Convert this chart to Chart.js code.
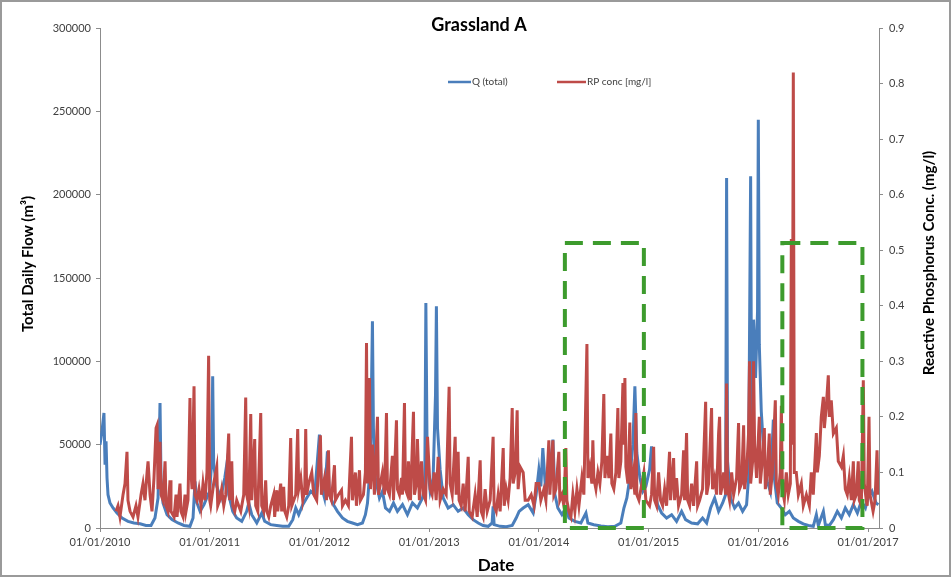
<!DOCTYPE html>
<html>
<head>
<meta charset="utf-8">
<script src="https://cdn.jsdelivr.net/npm/chart.js@4.4.1/dist/chart.umd.min.js"></script>
<style>
  html, body { margin: 0; padding: 0; background: #fff; }
  #wrap { width: 951px; height: 577px; }
</style>
</head>
<body>
<div id="wrap"><canvas id="grafico" width="951" height="577"></canvas></div>
<script>
// Datas em anos decimais (2010.5 = meio de 2010)
const anosTicks = [2010, 2011, 2012, 2013, 2014, 2015, 2016, 2017];

// Q (total) - vazão diária total (m3) [ano, vazão]
const vazaoQ = [
  [2010.000, 50000], [2010.018, 58000], [2010.036, 69000], [2010.046, 38000], [2010.055, 52000],
  [2010.064, 30000], [2010.073, 20000], [2010.091, 15000], [2010.119, 12000], [2010.155, 9000],
  [2010.201, 6000], [2010.255, 4000], [2010.310, 3000], [2010.365, 2500], [2010.419, 1500],
  [2010.465, 1500], [2010.501, 6000], [2010.529, 18000], [2010.547, 75000], [2010.556, 30000],
  [2010.574, 15000], [2010.611, 8000], [2010.656, 5000], [2010.711, 3000], [2010.766, 1500],
  [2010.820, 1000], [2010.848, 6000], [2010.866, 28000], [2010.884, 15000], [2010.912, 10000],
  [2010.948, 14000], [2010.985, 20000],
  [2011.000, 22000], [2011.018, 40000], [2011.027, 91000], [2011.036, 38000], [2011.064, 25000],
  [2011.100, 18000], [2011.137, 30000], [2011.155, 38000], [2011.173, 20000], [2011.210, 10000],
  [2011.246, 6000], [2011.292, 4000], [2011.337, 10000], [2011.356, 15000], [2011.383, 8000],
  [2011.429, 3000], [2011.474, 9000], [2011.501, 4000], [2011.556, 2000], [2011.611, 1500],
  [2011.665, 1000], [2011.720, 1000], [2011.757, 5000], [2011.784, 12000], [2011.811, 8000],
  [2011.848, 14000], [2011.884, 18000], [2011.921, 22000], [2011.957, 20000],
  [2012.000, 56000], [2012.018, 25000], [2012.046, 18000], [2012.073, 46000], [2012.091, 20000],
  [2012.128, 14000], [2012.164, 10000], [2012.210, 6000], [2012.255, 4000], [2012.301, 3000],
  [2012.347, 2000], [2012.392, 3000], [2012.419, 8000], [2012.438, 15000], [2012.465, 40000],
  [2012.483, 124000], [2012.492, 60000], [2012.510, 30000], [2012.547, 18000], [2012.574, 22000],
  [2012.602, 12000], [2012.638, 10000], [2012.675, 15000], [2012.711, 10000], [2012.757, 14000],
  [2012.802, 8000], [2012.848, 15000], [2012.893, 12000], [2012.939, 18000], [2012.960, 25000],
  [2012.970, 135000], [2012.982, 40000],
  [2013.009, 22000], [2013.036, 30000], [2013.058, 80000], [2013.066, 133000], [2013.076, 60000],
  [2013.100, 35000], [2013.128, 18000], [2013.173, 12000], [2013.219, 14000], [2013.264, 10000],
  [2013.310, 12000], [2013.356, 8000], [2013.401, 5000], [2013.447, 3000], [2013.492, 1500],
  [2013.538, 1000], [2013.574, 3000], [2013.583, 13000], [2013.592, 2000], [2013.647, 1000],
  [2013.702, 800], [2013.757, 1500], [2013.793, 6000], [2013.820, 10000], [2013.857, 12000],
  [2013.903, 14000], [2013.948, 9000], [2013.975, 20000],
  [2014.000, 35000], [2014.018, 25000], [2014.036, 48000], [2014.064, 20000], [2014.091, 30000],
  [2014.109, 40000], [2014.128, 53000], [2014.146, 20000], [2014.173, 12000], [2014.210, 8000],
  [2014.246, 12000], [2014.274, 6000], [2014.328, 4000], [2014.383, 3000], [2014.429, 9000],
  [2014.447, 3000], [2014.501, 2000], [2014.565, 1200], [2014.629, 800], [2014.693, 1000],
  [2014.747, 3000], [2014.775, 12000], [2014.802, 18000], [2014.829, 30000], [2014.857, 50000],
  [2014.875, 85000], [2014.893, 45000], [2014.921, 30000], [2014.948, 22000], [2014.975, 25000],
  [2015.009, 35000], [2015.027, 49000], [2015.046, 25000], [2015.082, 14000], [2015.119, 9000],
  [2015.164, 6000], [2015.210, 8000], [2015.255, 4000], [2015.301, 10000], [2015.337, 5000],
  [2015.392, 3000], [2015.447, 2500], [2015.492, 6000], [2015.529, 3000], [2015.565, 12000],
  [2015.602, 18000], [2015.638, 10000], [2015.675, 15000], [2015.702, 20000], [2015.711, 210000],
  [2015.720, 40000], [2015.747, 18000], [2015.784, 12000], [2015.820, 15000], [2015.857, 10000],
  [2015.893, 14000], [2015.911, 30000], [2015.930, 211000], [2015.939, 60000], [2015.957, 125000],
  [2015.975, 90000], [2015.993, 130000],
  [2016.000, 245000], [2016.009, 110000], [2016.027, 70000], [2016.055, 40000], [2016.082, 28000],
  [2016.109, 22000], [2016.137, 65000], [2016.146, 30000], [2016.173, 15000], [2016.210, 12000],
  [2016.246, 8000], [2016.283, 10000], [2016.319, 6000], [2016.365, 4000], [2016.410, 2500],
  [2016.456, 1500], [2016.501, 1000], [2016.529, 8000], [2016.547, 1500], [2016.593, 10000],
  [2016.611, 2000], [2016.647, 1500], [2016.684, 5000], [2016.720, 10000], [2016.757, 6000],
  [2016.793, 12000], [2016.829, 8000], [2016.866, 14000], [2016.903, 9000], [2016.939, 16000],
  [2016.976, 12000], [2017.000, 18000], [2017.036, 22000], [2017.073, 15000], [2017.095, 14000]
];

// RP conc - fósforo reativo (mg/l) [ano, concentração]
const concRP = [
  [2010.146, 0.03], [2010.164, 0.04], [2010.182, 0.02], [2010.210, 0.06], [2010.228, 0.08],
  [2010.246, 0.137], [2010.255, 0.05], [2010.274, 0.03], [2010.301, 0.02], [2010.328, 0.04],
  [2010.346, 0.02], [2010.374, 0.06], [2010.392, 0.08], [2010.410, 0.05], [2010.429, 0.10],
  [2010.438, 0.12], [2010.456, 0.06], [2010.474, 0.03], [2010.492, 0.09], [2010.511, 0.18],
  [2010.520, 0.185], [2010.529, 0.07], [2010.547, 0.155], [2010.556, 0.06], [2010.574, 0.05],
  [2010.593, 0.12], [2010.602, 0.04], [2010.620, 0.03], [2010.638, 0.086], [2010.647, 0.03],
  [2010.675, 0.02], [2010.693, 0.06], [2010.702, 0.02], [2010.729, 0.08], [2010.738, 0.03],
  [2010.757, 0.02], [2010.775, 0.06], [2010.784, 0.03], [2010.802, 0.05], [2010.820, 0.234],
  [2010.829, 0.10], [2010.839, 0.07], [2010.857, 0.255], [2010.866, 0.06], [2010.884, 0.05],
  [2010.902, 0.07], [2010.921, 0.04], [2010.939, 0.08], [2010.957, 0.05], [2010.975, 0.10],
  [2010.990, 0.31],
  [2011.000, 0.05], [2011.009, 0.04], [2011.036, 0.08], [2011.064, 0.11], [2011.073, 0.04],
  [2011.091, 0.05], [2011.109, 0.07], [2011.128, 0.04], [2011.146, 0.06], [2011.173, 0.17],
  [2011.182, 0.05], [2011.201, 0.12], [2011.210, 0.04], [2011.228, 0.03], [2011.246, 0.05],
  [2011.264, 0.04], [2011.283, 0.03], [2011.310, 0.06], [2011.328, 0.235], [2011.337, 0.06],
  [2011.356, 0.04], [2011.374, 0.205], [2011.383, 0.05], [2011.410, 0.16], [2011.419, 0.04],
  [2011.438, 0.03], [2011.465, 0.207], [2011.474, 0.04], [2011.492, 0.03], [2011.510, 0.086],
  [2011.520, 0.03], [2011.538, 0.02], [2011.556, 0.04], [2011.583, 0.06], [2011.592, 0.02],
  [2011.611, 0.068], [2011.620, 0.03], [2011.647, 0.08], [2011.656, 0.03], [2011.674, 0.074],
  [2011.684, 0.03], [2011.702, 0.02], [2011.720, 0.04], [2011.738, 0.162], [2011.748, 0.04],
  [2011.766, 0.05], [2011.784, 0.06], [2011.802, 0.178], [2011.811, 0.07], [2011.830, 0.09],
  [2011.848, 0.05], [2011.866, 0.07], [2011.875, 0.178], [2011.884, 0.06], [2011.902, 0.08],
  [2011.930, 0.10], [2011.948, 0.06], [2011.975, 0.05],
  [2012.009, 0.167], [2012.018, 0.06], [2012.046, 0.09], [2012.064, 0.05], [2012.082, 0.14],
  [2012.091, 0.06], [2012.109, 0.05], [2012.137, 0.113], [2012.146, 0.05], [2012.173, 0.06],
  [2012.201, 0.068], [2012.210, 0.04], [2012.237, 0.05], [2012.264, 0.04], [2012.292, 0.164],
  [2012.301, 0.05], [2012.328, 0.10], [2012.337, 0.04], [2012.365, 0.104], [2012.374, 0.05],
  [2012.401, 0.06], [2012.419, 0.10], [2012.429, 0.333], [2012.438, 0.08], [2012.456, 0.27],
  [2012.465, 0.07], [2012.483, 0.15], [2012.501, 0.06], [2012.529, 0.20], [2012.538, 0.06],
  [2012.556, 0.08], [2012.574, 0.10], [2012.593, 0.06], [2012.611, 0.207], [2012.620, 0.07],
  [2012.638, 0.06], [2012.665, 0.13], [2012.675, 0.05], [2012.702, 0.194], [2012.711, 0.07],
  [2012.729, 0.06], [2012.748, 0.09], [2012.757, 0.06], [2012.775, 0.225], [2012.784, 0.07],
  [2012.802, 0.06], [2012.811, 0.12], [2012.830, 0.05], [2012.857, 0.209], [2012.866, 0.06],
  [2012.884, 0.08], [2012.893, 0.16], [2012.911, 0.05], [2012.930, 0.12], [2012.948, 0.06],
  [2012.967, 0.05], [2012.985, 0.164],
  [2013.009, 0.07], [2013.027, 0.06], [2013.046, 0.10], [2013.064, 0.05], [2013.082, 0.128],
  [2013.100, 0.05], [2013.128, 0.07], [2013.155, 0.06], [2013.182, 0.254], [2013.191, 0.08],
  [2013.210, 0.06], [2013.237, 0.164], [2013.246, 0.06], [2013.264, 0.137], [2013.273, 0.05],
  [2013.292, 0.04], [2013.310, 0.08], [2013.328, 0.03], [2013.356, 0.128], [2013.365, 0.03],
  [2013.392, 0.02], [2013.419, 0.06], [2013.438, 0.02], [2013.465, 0.122], [2013.474, 0.03],
  [2013.492, 0.02], [2013.510, 0.07], [2013.529, 0.03], [2013.556, 0.05], [2013.583, 0.164],
  [2013.592, 0.04], [2013.611, 0.03], [2013.629, 0.06], [2013.647, 0.03], [2013.675, 0.144],
  [2013.684, 0.04], [2013.702, 0.07], [2013.720, 0.05], [2013.738, 0.09], [2013.757, 0.216],
  [2013.766, 0.08], [2013.784, 0.10], [2013.802, 0.212], [2013.811, 0.07], [2013.829, 0.11],
  [2013.857, 0.10], [2013.875, 0.05], [2013.902, 0.05], [2013.930, 0.06], [2013.956, 0.04],
  [2013.975, 0.08],
  [2014.000, 0.08], [2014.018, 0.05], [2014.046, 0.07], [2014.064, 0.05], [2014.091, 0.158],
  [2014.100, 0.06], [2014.128, 0.158], [2014.137, 0.06], [2014.155, 0.07], [2014.182, 0.137],
  [2014.191, 0.05], [2014.210, 0.06], [2014.228, 0.04], [2014.246, 0.144], [2014.255, 0.05],
  [2014.273, 0.03], [2014.292, 0.02], [2014.310, 0.06], [2014.328, 0.03], [2014.347, 0.07],
  [2014.365, 0.04], [2014.392, 0.09], [2014.410, 0.06], [2014.438, 0.331], [2014.447, 0.09],
  [2014.465, 0.11], [2014.483, 0.08], [2014.492, 0.158], [2014.501, 0.09], [2014.520, 0.07],
  [2014.538, 0.10], [2014.556, 0.08], [2014.574, 0.12], [2014.592, 0.241], [2014.602, 0.09],
  [2014.620, 0.13], [2014.638, 0.09], [2014.656, 0.17], [2014.665, 0.08], [2014.683, 0.07],
  [2014.702, 0.10], [2014.720, 0.216], [2014.729, 0.09], [2014.747, 0.12], [2014.766, 0.261],
  [2014.775, 0.15], [2014.784, 0.27], [2014.793, 0.11], [2014.811, 0.08], [2014.829, 0.19],
  [2014.838, 0.07], [2014.857, 0.10], [2014.875, 0.06], [2014.884, 0.207], [2014.893, 0.06],
  [2014.912, 0.05], [2014.930, 0.07], [2014.957, 0.10], [2014.975, 0.05],
  [2015.009, 0.04], [2015.027, 0.06], [2015.046, 0.146], [2015.055, 0.05], [2015.073, 0.04],
  [2015.091, 0.10], [2015.109, 0.05], [2015.128, 0.04], [2015.146, 0.07], [2015.164, 0.04],
  [2015.191, 0.137], [2015.200, 0.05], [2015.228, 0.126], [2015.237, 0.05], [2015.255, 0.09],
  [2015.273, 0.04], [2015.301, 0.06], [2015.319, 0.14], [2015.328, 0.05], [2015.346, 0.171],
  [2015.356, 0.05], [2015.374, 0.04], [2015.392, 0.08], [2015.410, 0.04], [2015.438, 0.12],
  [2015.447, 0.04], [2015.465, 0.05], [2015.492, 0.07], [2015.520, 0.227], [2015.529, 0.06],
  [2015.547, 0.08], [2015.574, 0.216], [2015.583, 0.07], [2015.602, 0.09], [2015.620, 0.06],
  [2015.638, 0.17], [2015.647, 0.20], [2015.656, 0.06], [2015.675, 0.08], [2015.684, 0.10],
  [2015.702, 0.06], [2015.711, 0.26], [2015.720, 0.07], [2015.738, 0.05], [2015.757, 0.10],
  [2015.775, 0.06], [2015.802, 0.09], [2015.820, 0.189], [2015.829, 0.07], [2015.848, 0.08],
  [2015.866, 0.185], [2015.875, 0.07], [2015.893, 0.10], [2015.911, 0.17], [2015.920, 0.30],
  [2015.930, 0.08], [2015.948, 0.12], [2015.957, 0.30], [2015.966, 0.15], [2015.984, 0.09],
  [2016.009, 0.20], [2016.018, 0.08], [2016.036, 0.12], [2016.055, 0.18], [2016.064, 0.07],
  [2016.082, 0.10], [2016.100, 0.17], [2016.109, 0.06], [2016.128, 0.10], [2016.155, 0.23],
  [2016.164, 0.08], [2016.182, 0.06], [2016.200, 0.10], [2016.210, 0.22], [2016.219, 0.07],
  [2016.237, 0.05], [2016.255, 0.10], [2016.273, 0.06], [2016.292, 0.08], [2016.301, 0.52],
  [2016.310, 0.15], [2016.319, 0.82], [2016.328, 0.10], [2016.346, 0.10], [2016.365, 0.06],
  [2016.392, 0.08], [2016.410, 0.04], [2016.438, 0.06], [2016.465, 0.04], [2016.483, 0.10],
  [2016.501, 0.06], [2016.529, 0.171], [2016.538, 0.10], [2016.556, 0.13], [2016.574, 0.20],
  [2016.593, 0.236], [2016.602, 0.18], [2016.620, 0.22], [2016.638, 0.275], [2016.647, 0.20],
  [2016.665, 0.23], [2016.684, 0.17], [2016.711, 0.18], [2016.729, 0.12], [2016.757, 0.11],
  [2016.775, 0.13], [2016.793, 0.07], [2016.811, 0.06], [2016.829, 0.09], [2016.848, 0.05],
  [2016.866, 0.12], [2016.875, 0.05], [2016.893, 0.06], [2016.911, 0.12], [2016.920, 0.05],
  [2016.939, 0.04], [2016.957, 0.266], [2016.966, 0.08], [2016.984, 0.05], [2016.993, 0.04],
  [2017.009, 0.20], [2017.018, 0.06], [2017.046, 0.03], [2017.064, 0.05], [2017.082, 0.14],
  [2017.091, 0.06]
];

// Períodos destacados (caixas tracejadas) [início, fim, topo em m3]
const periodosDestaque = [
  [2014.237, 2014.957, 171000],
  [2016.219, 2016.949, 171000]
];

const fonte = "Lato, 'Open Sans', sans-serif";
const azul = "#4a7ebb";
const vermelho = "#be4b48";

// Textos desenhados por cima: título, legenda, títulos dos eixos, caixas
const extras = {
  id: "extras",
  afterDatasetsDraw(chart) {
    const { ctx, scales } = chart;
    const x = scales.x, y = scales.yQ;
    ctx.save();
    ctx.strokeStyle = "#3d9b2d";
    ctx.lineWidth = 4;
    ctx.setLineDash([18, 10]);
    periodosDestaque.forEach(([a, b, topo]) => {
      const x0 = x.getPixelForValue(a), x1 = x.getPixelForValue(b);
      const y0 = y.getPixelForValue(topo), y1 = y.getPixelForValue(0);
      ctx.strokeRect(x0, y0, x1 - x0, y1 - y0);
    });
    ctx.restore();
  },
  afterDraw(chart) {
    const { ctx } = chart;
    ctx.save();
    // moldura
    ctx.strokeStyle = "#9a9a9a";
    ctx.lineWidth = 2;
    ctx.strokeRect(1, 1, 949, 575);

    ctx.fillStyle = "#000";
    ctx.textAlign = "center";
    ctx.textBaseline = "middle";
    ctx.font = "bold 18px " + fonte;
    ctx.fillText("Grassland A", 479, 25);

    ctx.font = "bold 17px " + fonte;
    ctx.fillText("Date", 496, 566);

    ctx.font = "bold 15px " + fonte;
    ctx.save();
    ctx.translate(28, 264);
    ctx.rotate(-Math.PI / 2);
    ctx.fillText("Total Daily Flow (m\u00b3)", 0, 0);
    ctx.restore();
    ctx.save();
    ctx.translate(929, 263);
    ctx.rotate(-Math.PI / 2);
    ctx.fillText("Reactive Phosphorus Conc. (mg/l)", 0, 0);
    ctx.restore();

    // legenda
    ctx.font = "10px " + fonte;
    ctx.textAlign = "left";
    ctx.fillStyle = "#404040";
    ctx.lineWidth = 2.5;
    ctx.strokeStyle = azul;
    ctx.beginPath(); ctx.moveTo(448, 82); ctx.lineTo(471, 82); ctx.stroke();
    ctx.fillText("Q (total)", 472, 82);
    ctx.strokeStyle = vermelho;
    ctx.beginPath(); ctx.moveTo(557, 82); ctx.lineTo(586, 82); ctx.stroke();
    ctx.fillText("RP conc [mg/l]", 587, 82);
    ctx.restore();
  }
};

const ctx = document.getElementById("grafico").getContext("2d");
new Chart(ctx, {
  type: "line",
  data: {
    datasets: [
      {
        label: "Q (total)",
        data: vazaoQ.map(([a, v]) => ({ x: a, y: v })),
        yAxisID: "yQ",
        borderColor: azul,
        borderWidth: 3,
        pointRadius: 0,
        tension: 0,
        order: 2
      },
      {
        label: "RP conc [mg/l]",
        data: concRP.map(([a, v]) => ({ x: a, y: v })),
        yAxisID: "yRP",
        borderColor: vermelho,
        borderWidth: 3,
        pointRadius: 0,
        tension: 0,
        order: 1
      }
    ]
  },
  options: {
    responsive: false,
    animation: false,
    layout: { padding: { top: 28, left: 0, right: 0, bottom: 0 } },
    plugins: {
      legend: { display: false },
      title: { display: false },
      tooltip: { enabled: false }
    },
    scales: {
      x: {
        type: "linear",
        min: 2010,
        max: 2017.1,
        afterBuildTicks(scale) {
          scale.ticks = anosTicks.map((v) => ({ value: v }));
        },
        afterFit(scale) { scale.height = 49; },
        ticks: {
          callback: (v) => "01/01/" + v,
          font: { family: fonte, size: 11 },
          color: "#404040",
          padding: 4,
          maxRotation: 0
        },
        grid: { drawOnChartArea: false, drawTicks: true, tickLength: 4, color: "#8c8c8c" },
        border: { display: true, color: "#8c8c8c", width: 1 }
      },
      yQ: {
        position: "left",
        min: 0,
        max: 300000,
        afterFit(scale) { scale.width = 100; },
        ticks: {
          stepSize: 50000,
          callback: (v) => String(v),
          font: { family: fonte, size: 11 },
          color: "#404040",
          padding: 5
        },
        grid: { drawOnChartArea: false, drawTicks: true, tickLength: 4, color: "#8c8c8c" },
        border: { display: true, color: "#8c8c8c", width: 1 }
      },
      yRP: {
        position: "right",
        min: 0,
        max: 0.9,
        afterFit(scale) { scale.width = 72; },
        ticks: {
          stepSize: 0.1,
          callback: (v) => String(Math.round(v * 10) / 10),
          font: { family: fonte, size: 11 },
          color: "#404040",
          padding: 6
        },
        grid: { drawOnChartArea: false, drawTicks: true, tickLength: 4, color: "#8c8c8c" },
        border: { display: true, color: "#8c8c8c", width: 1 }
      }
    }
  },
  plugins: [extras]
});
</script>
</body>
</html>
